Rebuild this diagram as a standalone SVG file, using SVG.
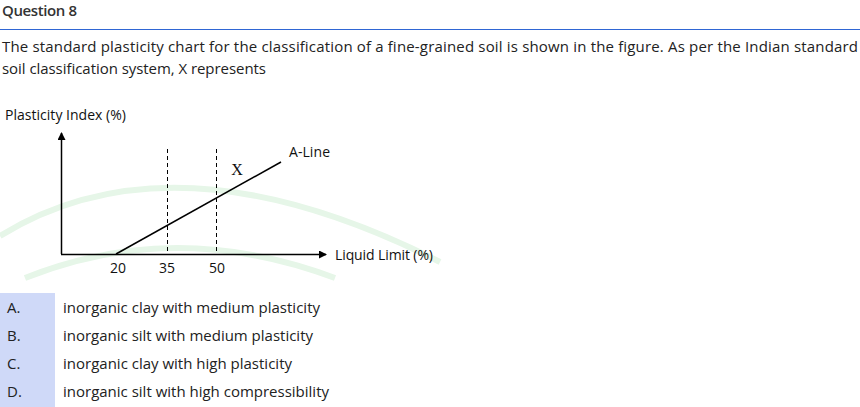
<svg xmlns="http://www.w3.org/2000/svg" width="860" height="407" viewBox="0 0 860 407">
<style>
.t{font-family:"Open Sans","Liberation Sans",sans-serif;font-size:15px;fill:#222}
.s{font-family:"Open Sans","Liberation Sans",sans-serif;font-size:14px;fill:#111}
.ax{stroke:#000;stroke-width:1.5;fill:none}
.dash{stroke:#000;stroke-width:1;stroke-dasharray:4 3;fill:none}
.wm{stroke:#e6f6e8;stroke-width:6;fill:none}
</style>
<defs>
<marker id="ah" markerWidth="8" markerHeight="8" refX="7" refY="4" orient="auto" markerUnits="userSpaceOnUse">
<path d="M0,0 L8,4 L0,8 Z" fill="#000"/>
</marker>
</defs>
<rect width="860" height="407" fill="#fff"/>
<g id="header">
<text x="2" y="16" class="t" style="font-weight:600;fill:#333" textLength="75">Question 8</text>
<line x1="0" y1="29.5" x2="860" y2="29.5" stroke="#2f66d4" stroke-width="1"/>
<text x="2" y="52" class="t" textLength="856">The standard plasticity chart for the classification of a fine-grained soil is shown in the figure. As per the Indian standard</text>
<text x="2" y="74" class="t" textLength="264">soil classification system, X represents</text>
</g>
<g id="watermark">
<path class="wm" d="M0,236 Q175,128 440,262"/>
<path class="wm" d="M25,278 Q175,218 335,278"/>
</g>
<g id="chart">
<text x="5" y="120" class="s" textLength="121">Plasticity Index (%)</text>
<g id="connectors">
<line class="ax" x1="61.5" y1="254" x2="61.5" y2="133" marker-end="url(#ah)"/>
<line class="ax" x1="61" y1="254.5" x2="326" y2="254.5" marker-end="url(#ah)"/>
<line class="ax" x1="116" y1="254" x2="281" y2="162"/>
<line class="dash" x1="167.5" y1="149" x2="167.5" y2="254"/>
<line class="dash" x1="216.5" y1="149" x2="216.5" y2="254"/>
</g>
<text x="118" y="273" class="s" text-anchor="middle">20</text>
<text x="167" y="273" class="s" text-anchor="middle">35</text>
<text x="217" y="273" class="s" text-anchor="middle">50</text>
<text x="237" y="175" font-family="Liberation Serif,serif" font-size="16" fill="#111" text-anchor="middle">X</text>
<text x="289" y="157" class="s" textLength="41">A-Line</text>
<text x="335" y="260" class="s" textLength="98">Liquid Limit (%)</text>
</g>
<g id="options">
<rect x="0" y="293" width="55" height="114" fill="#cfd9f8"/>
<text x="7" y="313" class="t">A.</text>
<text x="7" y="341" class="t">B.</text>
<text x="7" y="369" class="t">C.</text>
<text x="7" y="397" class="t">D.</text>
<text x="63" y="313" class="t" textLength="257">inorganic clay with medium plasticity</text>
<text x="63" y="341" class="t" textLength="250">inorganic silt with medium plasticity</text>
<text x="63" y="369" class="t" textLength="229">inorganic clay with high plasticity</text>
<text x="63" y="397" class="t" textLength="266">inorganic silt with high compressibility</text>
</g>
</svg>
